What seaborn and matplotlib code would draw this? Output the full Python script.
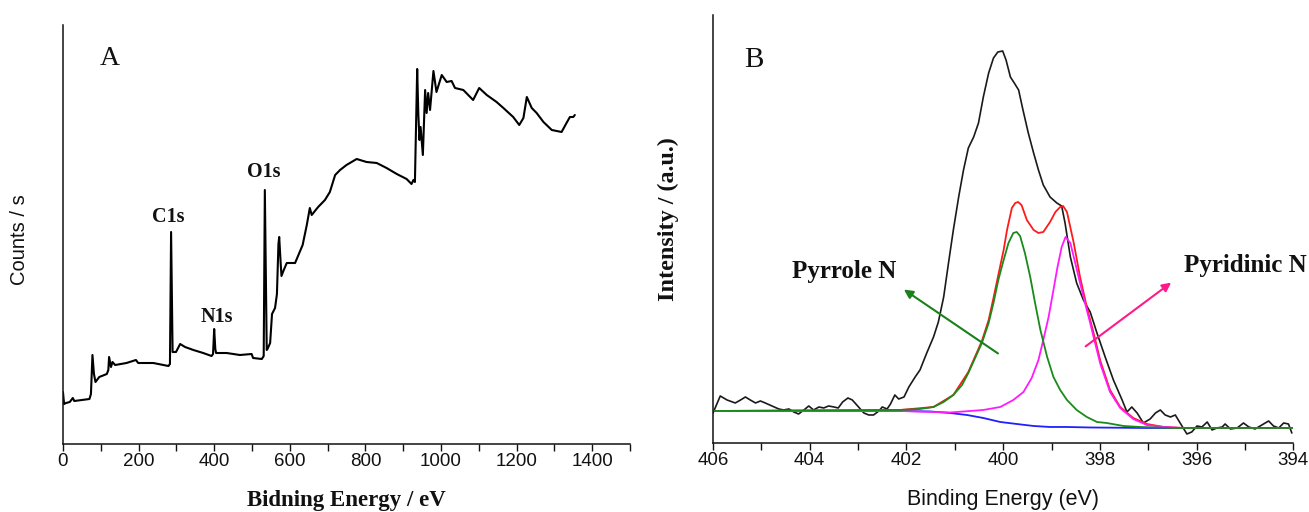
import matplotlib
matplotlib.use("Agg")
import matplotlib.pyplot as plt
import seaborn as sns

# ---- panel A: XPS survey (binding energy / eV, counts in arbitrary units)
survey_ev = [0, 3, 8, 18, 26, 30, 70, 74, 78, 82, 86, 96, 116, 120, 122, 127, 131, 138,
             168, 193, 199, 239, 279, 283, 286, 290, 299, 310, 323, 345, 371, 393, 397,
             400, 403, 405, 433, 468, 499, 503, 526, 531, 534, 539, 541, 548, 553, 561,
             566, 570, 572, 576, 578, 583, 592, 614, 634, 645, 653, 658, 675, 693, 706,
             720, 733, 750, 777, 803, 830, 856, 883, 909, 922, 927, 931, 937, 940, 943,
             946, 952, 958, 962, 966, 971, 980, 988, 1002, 1015, 1028, 1037, 1059, 1085,
             1101, 1121, 1147, 1165, 1191, 1207, 1218, 1227, 1240, 1253, 1271, 1293,
             1319, 1332, 1341, 1350, 1354]
survey_counts = [52, 40, 41, 42, 46, 43, 45, 50, 89, 70, 62, 67, 70, 74, 87, 77, 82, 79,
                 81, 84, 81, 81, 78, 80, 212, 92, 92, 100, 97, 94, 91, 88, 90,
                 115, 95, 91, 91, 89, 90, 86, 85, 88, 254, 94, 95, 101, 130, 136,
                 150, 200, 207, 180, 168, 173, 181, 181, 199, 219, 236, 229, 237, 244, 252,
                 269, 274, 279, 285, 282, 281, 276, 270, 265, 260, 264, 262, 375, 330, 304,
                 317, 289, 354, 331, 351, 334, 373, 352, 369, 362, 363, 356, 354, 344,
                 356, 349, 342, 336, 327, 319, 326, 347, 336, 331, 322, 314,
                 312, 321, 327, 327, 329]
peak_names = ["C1s", "N1s", "O1s"]
peak_ev = [278, 407, 532]
peak_label_h = [222, 122, 267]

# ---- panel B: N1s high resolution spectrum
n1s_ev = [406.0, 405.85, 405.71, 405.54, 405.43, 405.33, 405.23, 405.12, 405.02, 404.92,
          404.78, 404.64, 404.54, 404.43, 404.33, 404.23, 404.12, 404.02, 403.92, 403.81,
          403.71, 403.61, 403.50, 403.41, 403.32, 403.21, 403.12, 402.99, 402.88, 402.78,
          402.68, 402.57, 402.50, 402.40, 402.33, 402.24, 402.16, 402.05, 401.95, 401.82,
          401.72, 401.58, 401.44, 401.34, 401.23, 401.13, 401.03, 400.92, 400.82, 400.72,
          400.61, 400.51, 400.41, 400.30, 400.20, 400.11, 400.01, 399.94, 399.85, 399.77,
          399.68, 399.59, 399.48, 399.37, 399.27, 399.17, 399.03, 398.89, 398.79, 398.72,
          398.61, 398.48, 398.34, 398.20, 398.06, 397.89, 397.72, 397.54, 397.44, 397.34,
          397.23, 397.10, 396.96, 396.85, 396.75, 396.65, 396.54, 396.44, 396.34, 396.20,
          396.10, 395.99, 395.89, 395.78, 395.68, 395.58, 395.47, 395.41, 395.30, 395.16,
          395.03, 394.92, 394.79, 394.65, 394.51, 394.41, 394.30, 394.20, 394.10, 394.03]
n1s_int = [30, 47, 43, 40, 43, 46, 43, 40, 42, 40,
           37, 34, 33, 34, 31, 29, 33, 37, 33, 36,
           35, 37, 36, 35, 41, 45, 43, 36, 30, 28,
           28, 32, 36, 34, 39, 48, 44, 46, 56, 66,
           73, 90, 106, 121, 146, 180, 213, 246, 273, 295,
           306, 320, 346, 370, 385, 391, 392, 383, 366, 360,
           353, 333, 310, 290, 273, 258, 246, 240, 237, 220,
           186, 160, 143, 131, 110, 86, 63, 43, 31, 36,
           30, 20, 24, 30, 33, 28, 26, 28, 20, 9,
           11, 17, 16, 21, 13, 15, 16, 19, 14, 15,
           20, 16, 14, 18, 22, 17, 15, 20, 19, 10]

bg_ev = [406.0, 402.13, 401.5, 401.1, 400.75, 400.41, 400.06, 399.72, 399.37, 399.03,
         398.68, 398.2, 397.0, 394.0]
bg_int = [32, 32, 31.5, 30, 28, 25, 21, 19, 17, 16, 16, 15.5, 15, 15]

pyrrole_ev = [406.0, 402.13, 401.72, 401.44, 401.23, 401.03, 400.85, 400.72, 400.58, 400.44,
              400.30, 400.20, 400.10, 399.99, 399.89, 399.79, 399.72, 399.65, 399.55, 399.44,
              399.34, 399.23, 399.09, 398.96, 398.82, 398.68, 398.48, 398.27, 398.06, 397.86,
              397.51, 397.17, 396.48, 394.0]
pyrrole_int = [32, 33, 34, 36, 41, 48, 58, 70, 85, 100,
               120, 140, 163, 183, 200, 210, 211, 207, 190, 166,
               140, 113, 86, 66, 53, 43, 33, 26, 21, 20,
               17, 16, 15, 15]

pyridinic_ev = [406.0, 402.13, 401.1, 400.41, 400.06, 399.79, 399.58, 399.41, 399.27, 399.17,
                399.06, 398.96, 398.88, 398.79, 398.71, 398.61, 398.51, 398.41, 398.27, 398.20,
                398.13, 397.99, 397.79, 397.58, 397.31, 397.03, 396.68, 396.27, 394.0]
pyridinic_int = [32, 32, 30.5, 33, 36, 43, 51, 65, 83, 103,
                 126, 153, 175, 196, 206, 200, 180, 160, 133, 120,
                 106, 79, 51, 35, 24, 18, 16, 15, 15]

envelope_ev = [406.0, 402.13, 401.44, 401.03, 400.72, 400.44, 400.30, 400.20, 400.10, 399.99,
               399.92, 399.82, 399.75, 399.69, 399.62, 399.51, 399.37, 399.27, 399.17, 399.03,
               398.92, 398.82, 398.76, 398.68, 398.54, 398.41, 398.27, 398.20, 398.13, 397.99,
               397.79, 397.58, 397.31, 397.03, 396.68, 396.27, 394.0]
envelope_int = [32, 33, 36, 48, 71, 102, 123, 145, 168, 193,
                213, 235, 240, 241, 238, 223, 213, 210, 211, 221,
                231, 236, 237, 231, 200, 166, 136, 123, 110, 82,
                53, 36, 25, 19, 16, 15, 15]

SERIF = ["Liberation Serif", "DejaVu Serif"]
SANS = ["Liberation Sans", "DejaVu Sans"]

sns.set_style("ticks")
plt.rcParams["font.family"] = SANS

fig = plt.figure(figsize=(13.09, 5.12), dpi=100)
axA = fig.add_axes([0.0481, 0.1328, 0.4332, 0.8184])
axB = fig.add_axes([0.5447, 0.1348, 0.4433, 0.8359])

for ax in (axA, axB):
    sns.despine(ax=ax)
    for s in ("left", "bottom"):
        ax.spines[s].set_linewidth(1.1)
        ax.spines[s].set_color("#111111")
    ax.tick_params(axis="y", which="both", left=False, labelleft=False)
    ax.tick_params(axis="x", which="both", direction="out", length=5, width=1.0,
                   pad=1.5, labelsize=13.5, colors="#111111")

# panel A
sns.lineplot(x=survey_ev, y=survey_counts, ax=axA, color="black", lw=1.5,
             estimator=None, sort=False)
axA.set_xlim(0, 1500)
axA.set_ylim(0, 419)
axA.set_xticks(range(0, 1401, 200))
axA.set_xticks(range(0, 1501, 100), minor=True)
for name, xe, yh in zip(peak_names, peak_ev, peak_label_h):
    axA.text(xe, yh, name, ha="center", va="baseline", fontsize=14.5,
             fontweight="bold", family=SERIF, color="#111111")
axA.text(0.082, 0.9045, "A", transform=axA.transAxes, ha="center", va="baseline",
         fontsize=20, family=SERIF, color="#111111")
axA.set_xlabel("Bidning Energy / eV", fontsize=16.5, fontweight="bold", family=SERIF,
               va="center", color="#111111")
axA.xaxis.set_label_coords(0.5, -0.134)
axA.set_ylabel("")
axA.text(-0.077, 0.487, "Counts / s", transform=axA.transAxes, rotation=90,
         ha="center", va="center", fontsize=14.5, family=SANS, color="#111111")

# panel B
sns.lineplot(x=n1s_ev, y=n1s_int, ax=axB, color="#1a1a1a", lw=1.2,
             estimator=None, sort=False)
sns.lineplot(x=bg_ev, y=bg_int, ax=axB, color="#1f1fff", lw=1.3,
             estimator=None, sort=False)
sns.lineplot(x=envelope_ev, y=envelope_int, ax=axB, color="#ff1a1a", lw=1.3,
             estimator=None, sort=False)
sns.lineplot(x=pyridinic_ev, y=pyridinic_int, ax=axB, color="#ff1aff", lw=1.3,
             estimator=None, sort=False)
sns.lineplot(x=pyrrole_ev, y=pyrrole_int, ax=axB, color="#1a8a1a", lw=1.3,
             estimator=None, sort=False)
axB.set_xlim(406, 394)
axB.set_ylim(0, 428)
axB.set_xticks(range(406, 393, -2))
axB.set_xticks(range(406, 393, -1), minor=True)

axB.annotate("", xy=(402.10, 155), xytext=(400.06, 88),
             arrowprops=dict(arrowstyle="-|>", color="#1a801a", lw=1.5, mutation_scale=13))
axB.annotate("", xy=(396.48, 162), xytext=(398.34, 95),
             arrowprops=dict(arrowstyle="-|>", color="#ff1a8c", lw=1.5, mutation_scale=13))
axB.text(404.37, 165, "Pyrrole N", ha="left", va="baseline", fontsize=18,
         fontweight="bold", family=SERIF, color="#111111")
axB.text(396.27, 171, "Pyridinic N", ha="left", va="baseline", fontsize=18,
         fontweight="bold", family=SERIF, color="#111111", clip_on=False)
axB.text(0.0698, 0.8785, "B", transform=axB.transAxes, ha="center", va="baseline",
         fontsize=21, family=SERIF, color="#111111")
axB.set_xlabel("Binding Energy (eV)", fontsize=15.5, family=SANS, va="center",
               color="#111111")
axB.xaxis.set_label_coords(0.5, -0.133)
axB.set_ylabel("")
axB.text(-0.0775, 0.523, "Intensity / (a.u.)", transform=axB.transAxes, rotation=90,
         ha="center", va="center", fontsize=17.4, fontweight="bold", family=SERIF,
         color="#111111")

fig.savefig("out.png", dpi=100)
